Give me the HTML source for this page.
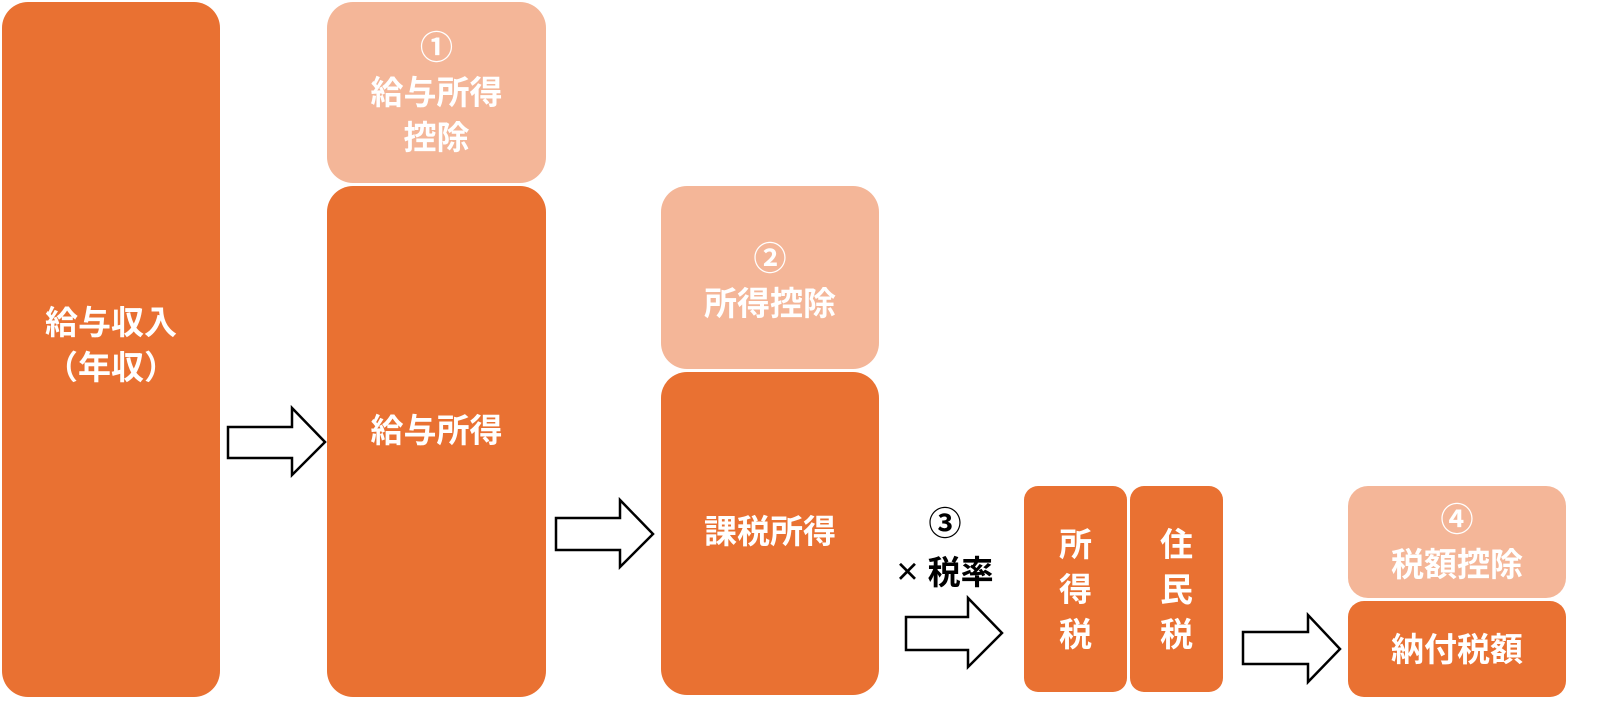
<!DOCTYPE html>
<html><head><meta charset="utf-8"><style>
html,body{margin:0;padding:0;background:#fff;}
body{width:1611px;height:717px;position:relative;overflow:hidden;font-family:"Liberation Sans","Noto Sans CJK JP",sans-serif;}
.b{position:absolute;border-radius:26px;color:#fff;font-weight:bold;font-size:33px;display:flex;flex-direction:column;align-items:center;justify-content:center;text-align:center;line-height:45px;}
.d{background:#E97132;}
.l{background:#F4B698;}
svg{position:absolute;left:0;top:0;}
</style></head><body>
<div class="b d" style="left:2px;top:2px;width:218px;height:695px;padding-bottom:10px;box-sizing:border-box;">給与収入<br>（年収）</div>
<div class="b l" style="left:327px;top:2px;width:219px;height:181px;">①<br>給与所得<br>控除</div>
<div class="b d" style="left:327px;top:186px;width:219px;height:511px;padding-bottom:22px;box-sizing:border-box;">給与所得</div>
<div class="b l" style="left:661px;top:186px;width:218px;height:183px;padding-top:6px;box-sizing:border-box;">②<br>所得控除</div>
<div class="b d" style="left:661px;top:372px;width:218px;height:323px;padding-bottom:4px;box-sizing:border-box;">課税所得</div>
<div style="position:absolute;left:890px;top:500px;width:110px;text-align:center;font-weight:bold;font-size:33px;line-height:48px;color:#000;">③<br><span style="font-weight:normal;font-size:38px">×</span>&nbsp;税率</div>
<div class="b d" style="left:1024px;top:486px;width:103px;height:206px;border-radius:14px;">所<br>得<br>税</div>
<div class="b d" style="left:1130px;top:486px;width:93px;height:206px;border-radius:14px;">住<br>民<br>税</div>
<div class="b l" style="left:1348px;top:486px;width:218px;height:112px;border-radius:20px;">④<br>税額控除</div>
<div class="b d" style="left:1348px;top:601px;width:218px;height:96px;border-radius:16px;">納付税額</div>
<svg width="1611" height="717">
<g fill="#fff" stroke="#000" stroke-width="2.5" stroke-linejoin="miter">
<polygon points="228,427 292,427 292,408 325,442 292,475 292,458 228,458"/>
<polygon points="556,518 620,518 620,500 653,534 620,567 620,550 556,550"/>
<polygon points="906,617 968,617 968,598 1002,633 968,667 968,650 906,650"/>
<polygon points="1243,632 1308,632 1308,615 1340,649 1308,682 1308,664 1243,664"/>
</g></svg>
</body></html>
